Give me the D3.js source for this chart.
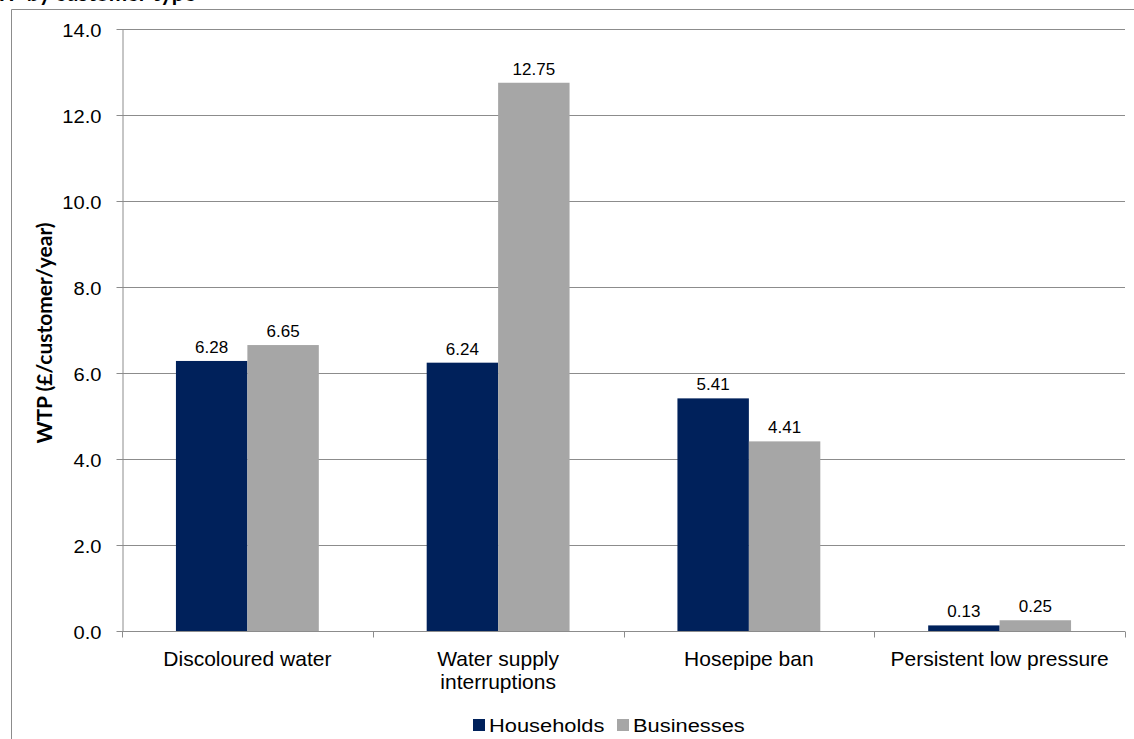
<!DOCTYPE html>
<html>
<head>
<meta charset="utf-8">
<script src="https://cdn.jsdelivr.net/npm/d3@7"></script>
<style>
  html, body { margin: 0; padding: 0; background: #fff; }
  svg { display: block; }
</style>
</head>
<body>
<svg id="chart" width="1134" height="739"></svg>
<script>
// Willingness to pay by service attribute, households vs businesses
const categories = [["Discoloured water"], ["Water supply", "interruptions"], ["Hosepipe ban"], ["Persistent low pressure"]];
const seriesNames = ["Households", "Businesses"];
const households = [6.28, 6.24, 5.41, 0.13];
const businesses = [6.65, 12.75, 4.41, 0.25];
const yTicks = [0, 2, 4, 6, 8, 10, 12, 14];
const colors = ["#00215B", "#A6A6A6"];

const FONT = "Arial, 'Liberation Sans', sans-serif";
const svg = d3.select("#chart");
const margin = { left: 122, right: 9, top: 29, bottom: 108 };
const W = 1134, H = 739;

// Outer chart frame (left and top edges)
svg.append("path")
  .attr("d", "M11.5,739 V9.5 H1134")
  .attr("fill", "none").attr("stroke", "#8c8c8c").attr("stroke-width", 1);

// Title (runs off the top edge)
svg.append("text")
  .attr("x", 196).attr("y", 1)
  .attr("text-anchor", "end")
  .attr("font-family", "Lato, 'Open Sans', sans-serif")
  .attr("font-weight", "bold").attr("font-size", 22)
  .attr("fill", "#000")
  .text("WTP by customer type");

const x0 = d3.scaleBand()
  .domain(d3.range(categories.length))
  .range([margin.left, W - margin.right]);

const x1 = d3.scaleBand()
  .domain(seriesNames)
  .range([0, x0.bandwidth()])
  .paddingInner(0)
  .paddingOuter(0.755);

const y = d3.scaleLinear().domain([0, 14]).range([H - margin.bottom, margin.top]);

// Horizontal gridlines
svg.append("g").selectAll("line").data(yTicks.slice(1)).join("line")
  .attr("x1", margin.left).attr("x2", W - margin.right)
  .attr("y1", d => Math.round(y(d)) + 0.5).attr("y2", d => Math.round(y(d)) + 0.5)
  .attr("stroke", "#8c8c8c").attr("stroke-width", 1);

// Y axis
const yAxis = svg.append("g")
  .attr("transform", `translate(${margin.left + 0.5},0)`)
  .call(d3.axisLeft(y).tickValues(yTicks).tickFormat(d3.format(".1f")).tickSize(6).tickSizeOuter(0).tickPadding(0));
yAxis.select(".domain").attr("stroke", "#8c8c8c");
yAxis.selectAll(".tick line").attr("stroke", "#8c8c8c");
yAxis.selectAll(".tick text")
  .attr("x", 0).attr("dy", null).attr("y", 7)
  .attr("transform", "translate(-21,0) scale(1.06,1)")
  .attr("font-family", FONT)
  .attr("font-size", 19).attr("fill", "#000");

// Y axis title
svg.append("text")
  .attr("transform", `translate(52,${333}) rotate(-90)`)
  .attr("text-anchor", "middle")
  .attr("font-family", "Lato, 'Open Sans', sans-serif")
  .attr("font-weight", "bold").attr("font-size", 21)
  .attr("fill", "#000")
  .text("WTP (£/customer/year)");

// Bars
const rows = categories.map((c, i) => ({ i, values: [households[i], businesses[i]] }));
const groups = svg.append("g").selectAll("g").data(rows).join("g")
  .attr("transform", d => `translate(${x0(d.i)},0)`);

groups.selectAll("rect").data(d => d.values.map((v, k) => ({ v, k }))).join("rect")
  .attr("x", d => x1(seriesNames[d.k]))
  .attr("width", x1.bandwidth())
  .attr("y", d => y(d.v))
  .attr("height", d => y(0) - y(d.v))
  .attr("fill", d => colors[d.k]);

// Value labels
groups.selectAll("text.val").data(d => d.values.map((v, k) => ({ v, k }))).join("text")
  .attr("class", "val")
  .attr("x", d => x1(seriesNames[d.k]) + x1.bandwidth() / 2)
  .attr("y", d => y(d.v) - 8)
  .attr("text-anchor", "middle")
  .attr("font-family", FONT)
  .attr("font-size", 17).attr("fill", "#000")
  .text(d => d.v.toFixed(2));

// X axis
const xBase = Math.round(y(0)) + 0.5;
svg.append("line")
  .attr("x1", margin.left).attr("x2", W - margin.right)
  .attr("y1", xBase).attr("y2", xBase)
  .attr("stroke", "#8c8c8c");
const bounds = d3.range(categories.length + 1).map(i => i < categories.length ? x0(i) : x0(i - 1) + x0.bandwidth());
svg.append("g").selectAll("line").data(bounds).join("line")
  .attr("x1", d => Math.round(d) + 0.5).attr("x2", d => Math.round(d) + 0.5)
  .attr("y1", xBase).attr("y2", xBase + 6)
  .attr("stroke", "#8c8c8c");

// Category labels
const catText = svg.append("g").selectAll("text").data(categories).join("text")
  .attr("x", (d, i) => x0(i) + x0.bandwidth() / 2)
  .attr("y", 666)
  .attr("text-anchor", "middle")
  .attr("font-family", FONT)
  .attr("font-size", 21).attr("fill", "#000");
catText.selectAll("tspan").data(d => d).join("tspan")
  .attr("x", function () { return d3.select(this.parentNode).attr("x"); })
  .attr("dy", (d, j) => j === 0 ? 0 : 23)
  .text(d => d);

// Legend
const legend = svg.append("g").attr("transform", "translate(473,732)");
const legendX = [0, 144];
seriesNames.forEach((name, k) => {
  const g = legend.append("g").attr("transform", `translate(${legendX[k]},0)`);
  g.append("rect").attr("x", 0).attr("y", -13).attr("width", 12).attr("height", 12).attr("fill", colors[k]);
  g.append("text")
    .attr("transform", "translate(16,0) scale(1.15,1)")
    .attr("font-family", FONT)
    .attr("font-size", 19).attr("fill", "#000")
    .text(name);
});
</script>
</body>
</html>
